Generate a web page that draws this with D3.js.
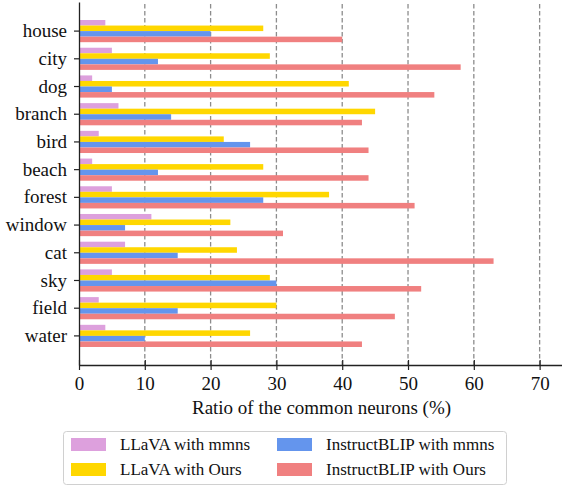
<!DOCTYPE html>
<html>
<head>
<meta charset="utf-8">
<script src="https://cdn.jsdelivr.net/npm/d3@7"></script>
<style>
  body { margin: 0; background: #fff; }
  svg text { font-family: "Liberation Serif", "Times New Roman", "DejaVu Serif", serif; }
</style>
</head>
<body>
<div id="chart"></div>
<script>
// data
const categories = ["house", "city", "dog", "branch", "bird", "beach", "forest", "window", "cat", "sky", "field", "water"];
const seriesNames = ["LLaVA with mmns", "LLaVA with Ours", "InstructBLIP with mmns", "InstructBLIP with Ours"];
const llavaMmns = [4, 5, 2, 6, 3, 2, 5, 11, 7, 5, 3, 4];
const llavaOurs = [28, 29, 41, 45, 22, 28, 38, 23, 24, 29, 30, 26];
const blipMmns = [20, 12, 5, 14, 26, 12, 28, 7, 15, 30, 15, 10];
const blipOurs = [40, 58, 54, 43, 44, 44, 51, 31, 63, 52, 48, 43];
const xTicks = [0, 10, 20, 30, 40, 50, 60, 70];
const colors = ["#DDA0DD", "#FFD700", "#6495ED", "#F08080"];

const seriesValues = [llavaMmns, llavaOurs, blipMmns, blipOurs];

const W = 562, H = 486;
const plot = { left: 79, top: 2, right: 562, bottom: 365 };
const serif = "'Liberation Serif', 'Times New Roman', serif";

const svg = d3.select("#chart").append("svg")
    .attr("width", W)
    .attr("height", H)
    .style("display", "block");

const x = d3.scaleLinear().domain([0, 73.4]).range([plot.left, plot.right]);
const y = d3.scaleBand().domain(categories).range([plot.top, plot.bottom])
    .paddingInner(0).paddingOuter(0.55);
const ySub = d3.scaleBand().domain(seriesNames)
    .range([y.bandwidth() * 0.1, y.bandwidth() * 0.9]);

// dashed grid
svg.append("g")
    .selectAll("line")
    .data(xTicks.filter(d => d > 0))
    .join("line")
    .attr("x1", d => x(d)).attr("x2", d => x(d))
    .attr("y1", 4).attr("y2", plot.bottom)
    .attr("stroke", "#8c8c8c")
    .attr("stroke-width", 1.3)
    .attr("stroke-dasharray", "4.5,2.5");

// bars
const rows = [];
categories.forEach((c, i) => {
    seriesNames.forEach((s, j) => {
        rows.push({ cat: c, series: s, value: seriesValues[j][i], color: colors[j] });
    });
});

svg.append("g")
    .selectAll("rect")
    .data(rows)
    .join("rect")
    .attr("x", x(0))
    .attr("y", d => y(d.cat) + ySub(d.series))
    .attr("width", d => x(d.value) - x(0))
    .attr("height", ySub.bandwidth())
    .attr("fill", d => d.color);

// x axis
const xAxis = svg.append("g")
    .attr("transform", `translate(0,${plot.bottom})`)
    .call(d3.axisBottom(x).tickValues(xTicks).tickSizeInner(5).tickSizeOuter(0).tickPadding(7));
xAxis.attr("font-family", serif).attr("font-size", 19);
xAxis.select(".domain").attr("stroke", "#222").attr("stroke-width", 1.3);
xAxis.selectAll(".tick line").attr("y1", -5).attr("stroke", "#222").attr("stroke-width", 1.2);
xAxis.selectAll(".tick text").attr("fill", "#111");

// y axis
const yAxis = svg.append("g")
    .attr("transform", `translate(${plot.left},0)`)
    .call(d3.axisLeft(y).tickSizeInner(5).tickSizeOuter(0).tickPadding(7));
yAxis.attr("font-family", serif).attr("font-size", 19);
yAxis.select(".domain").attr("stroke", "#222").attr("stroke-width", 1.3);
yAxis.selectAll(".tick line").attr("stroke", "#222").attr("stroke-width", 1.2);
yAxis.selectAll(".tick text").attr("fill", "#111");

// axis title
svg.append("text")
    .attr("x", (x(0) + x(73.4)) / 2 + 1)
    .attr("y", 414)
    .attr("text-anchor", "middle")
    .attr("font-family", serif)
    .attr("font-size", 19)
    .attr("fill", "#111")
    .text("Ratio of the common neurons (%)");

// legend
const legend = svg.append("g");
legend.append("rect")
    .attr("x", 63.5).attr("y", 431.5)
    .attr("width", 443).attr("height", 53)
    .attr("rx", 3)
    .attr("fill", "#fff")
    .attr("stroke", "#d0d0d0")
    .attr("stroke-width", 1);

const legendItems = legend.selectAll(".legend-item")
    .data(seriesNames)
    .join("g")
    .attr("class", "legend-item")
    .attr("transform", (d, i) => `translate(${i < 2 ? 71 : 277},${i % 2 === 0 ? 438 : 463})`);

legendItems.append("rect")
    .attr("width", 35)
    .attr("height", 13)
    .attr("fill", (d, i) => colors[i]);

legendItems.append("text")
    .attr("x", 49)
    .attr("y", 12)
    .attr("font-family", serif)
    .attr("font-size", 17)
    .attr("fill", "#111")
    .text(d => d);
</script>
</body>
</html>
